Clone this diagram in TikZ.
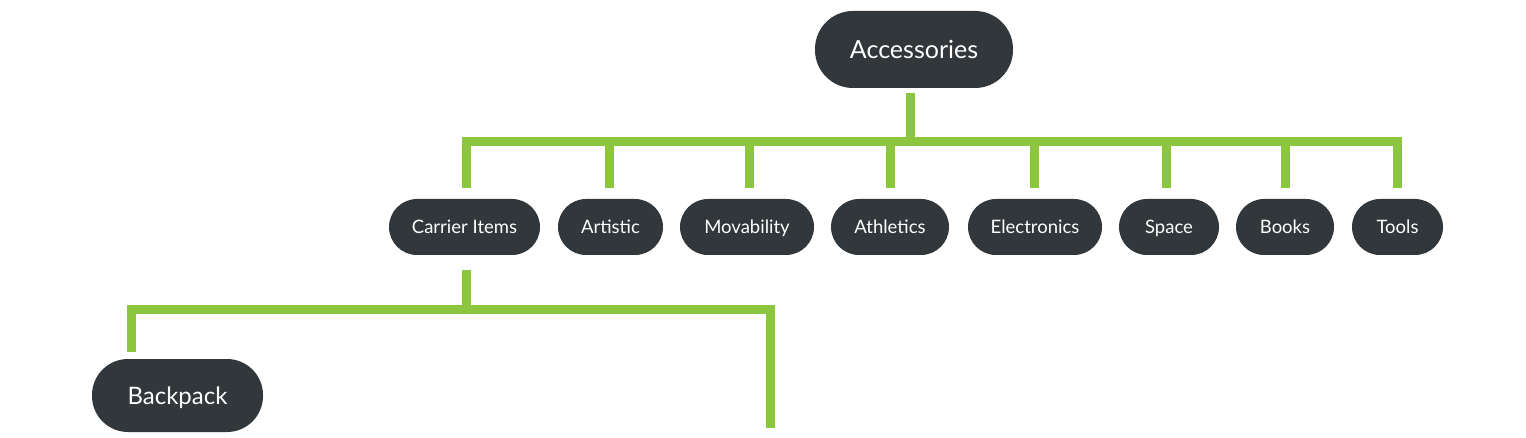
\documentclass[tikz,border=0pt]{standalone}
\usepackage{fontspec}
\setmainfont{Lato}
\definecolor{nodedark}{HTML}{32373B}
\definecolor{leafgreen}{HTML}{8CC63F}
\begin{document}
\begin{tikzpicture}[x=1pt,y=-1pt,
  box/.style={fill=nodedark, text=white, inner sep=0pt, text depth=0pt},
  rootbox/.style={box, minimum height=77pt, rounded corners=38pt, text height=18pt, font=\fontsize{25}{28}\selectfont},
  leafbox/.style={box, minimum height=56pt, rounded corners=28pt, text height=13.3pt, font=\fontsize{18.5}{21}\selectfont},
  subbox/.style={box, minimum height=73pt, rounded corners=36pt, text height=17.3pt, font=\fontsize{24}{27}\selectfont},
  conn/.style={draw=leafgreen, line width=9pt, line join=miter}]
\fill[white] (0,0) rectangle (1526,438);
\useasboundingbox (0,0) rectangle (1526,438);

\node[rootbox, minimum width=198pt] (acc) at (914,49.5) {Accessories};

\node[leafbox, minimum width=151pt] (carrier) at (464.5,227) {Carrier Items};
\node[leafbox, minimum width=105pt] (artistic) at (610.5,227) {Artistic};
\node[leafbox, minimum width=134pt] (movability) at (747,227) {Movability};
\node[leafbox, minimum width=118pt] (athletics) at (890,227) {Athletics};
\node[leafbox, minimum width=134pt] (electronics) at (1035,227) {Electronics};
\node[leafbox, minimum width=100pt] (space) at (1169,227) {Space};
\node[leafbox, minimum width=98pt] (books) at (1285,227) {Books};
\node[leafbox, minimum width=91pt] (tools) at (1397.5,227) {Tools};

\node[subbox, minimum width=171pt] (backpack) at (177.5,395.5) {Backpack};
\coordinate (cut) at (770,428);

\foreach \n/\dx in {carrier/1.5, artistic/-1.5, movability/2, athletics/0, electronics/-1, space/-3, books/0, tools/0}{
  \draw[conn] ([shift={(-4,5)}]acc.south) -- ++(0,48.5) -| ([shift={(\dx,-11)}]\n.north);
}

\draw[conn] ([shift={(1.5,15)}]carrier.south) -- ++(0,39.5) -| ([shift={(-46,-7)}]backpack.north);
\draw[conn] ([shift={(1.5,15)}]carrier.south) -- ++(0,39.5) -| (cut);
\end{tikzpicture}
\end{document}
